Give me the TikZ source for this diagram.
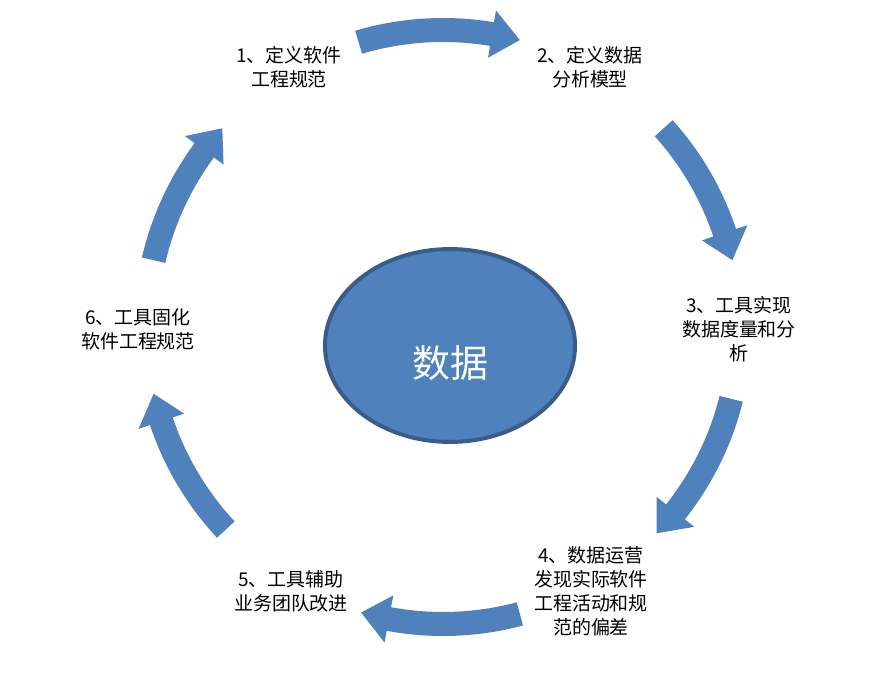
\documentclass[tikz,border=0pt]{standalone}
\usepackage{fontspec}
\setmainfont{Noto Sans CJK SC}
\usetikzlibrary{shapes.geometric}

\definecolor{arrowblue}{HTML}{4F81BD}
\definecolor{rimblue}{HTML}{385D8A}

\tikzset{
  steplabel/.style={align=center, inner sep=0pt, font=\fontsize{13.5}{17}\selectfont},
  cyclearrow/.style={fill=arrowblue},
  hub/.style={ellipse, draw=rimblue, fill=arrowblue, line width=0.1cm,
    minimum width=6.25cm, minimum height=4.82cm, inner sep=0pt}
}

\begin{document}
\begin{tikzpicture}[x=0.025cm,y=0.025cm]
\useasboundingbox (0,0) rectangle (886,677);

% Ring radius, shaft and head half widths, head length (deg)
\def\R{297}
\def\w{12}
\def\h{24}
\def\d{5.5}

% Curved arrows round the cycle
\begin{scope}[shift={(443,350)}]
\foreach \a/\b in {106.5/75, 42/13, -14/-44, -75/-106, -137/-167, 167/138} {
  \fill[cyclearrow] (\a:\R+\w) arc[start angle=\a, end angle=\b+\d, radius=\R+\w]
    -- (\b+\d:\R+\h) -- (\b:\R) -- (\b+\d:\R-\h) -- (\b+\d:\R-\w)
    arc[start angle=\b+\d, end angle=\a, radius=\R-\w] -- cycle;
}
\end{scope}

% Centre
\node[hub] (hub) at (450,331.5) {};
\node[text=white, font=\fontsize{27}{32}\selectfont] (hubtext) at (450,314) {数据};

% Steps
\node[steplabel] (step1) at (289,610) {1、定义软件\\工程规范};
\node[steplabel] (step2) at (590,610) {2、定义数据\\分析模型};
\node[steplabel] (step3) at (739,348) {3、工具实现\\数据度量和分\\析};
\node[steplabel] (step4) at (591,86) {4、数据运营\\发现实际软件\\工程活动和规\\范的偏差};
\node[steplabel] (step5) at (291,86) {5、工具辅助\\业务团队改进};
\node[steplabel] (step6) at (138,348) {6、工具固化\\软件工程规范};

\end{tikzpicture}
\end{document}
